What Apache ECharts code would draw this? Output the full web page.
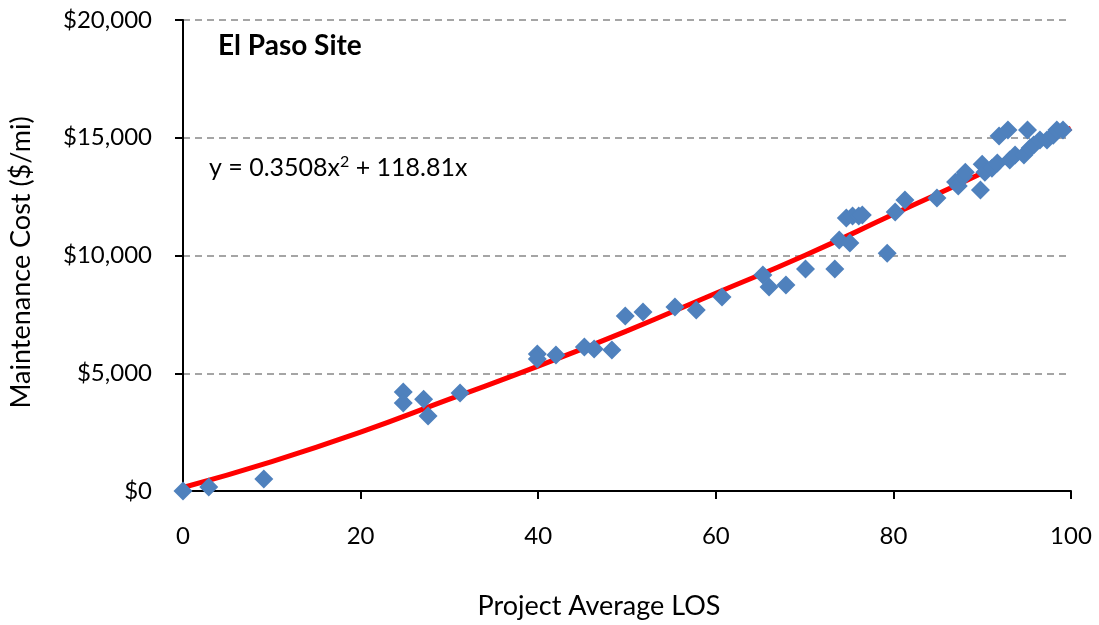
<!DOCTYPE html>
<html>
<head>
<meta charset="utf-8">
<script src="https://cdn.jsdelivr.net/npm/echarts@6/dist/echarts.min.js"></script>
<style>
  html, body { margin: 0; padding: 0; background: #fff; }
  #chart { width: 1099px; height: 625px; }
</style>
</head>
<body>
<div id="chart"></div>
<script>
// project average LOS vs maintenance cost
var losValues = [0, 2.9, 9.1, 24.8, 24.8, 27.1, 27.6, 31.2, 39.9, 39.9, 42.0, 45.2, 46.3, 48.3,
  49.8, 51.8, 55.4, 57.8, 60.7, 65.3, 66.0, 67.9, 70.1, 73.4, 73.9, 75.1, 74.7, 75.4, 76.1, 76.5,
  79.3, 80.2, 81.3, 84.9, 87.0, 87.3, 87.9, 88.1, 89.8, 90.0, 90.3, 91.1, 91.7, 91.9, 92.9, 93.1,
  93.7, 94.7, 95.1, 95.4, 95.8, 96.5, 97.3, 98.0, 98.4, 99.1]
var costValues = [0, 170, 510, 4200, 3740, 3900, 3180, 4160, 5820, 5600, 5770, 6110, 6030, 5990,
  7430, 7600, 7810, 7690, 8240, 9170, 8660, 8750, 9430, 9430, 10660, 10530, 11590, 11680, 11680, 11720,
  10100, 11850, 12360, 12440, 13120, 12950, 13370, 13540, 12780, 13880, 13540, 13710, 13930, 15070, 15330, 14050,
  14270, 14270, 15330, 14560, 14690, 14900, 14900, 15110, 15330, 15330]

// trend line
var trendX = [0, 10, 20, 30, 40, 50, 60, 70, 80, 90, 100]
var trendY = [150, 1250, 2500, 3900, 5300, 6800, 8400, 10000, 11750, 13500, 15400]

var xTicks = [0, 20, 40, 60, 80, 100]
var yTicks = [0, 5000, 10000, 15000, 20000]

var points = losValues.map(function (x, i) { return [x, costValues[i]] })
var trend = trendX.map(function (x, i) { return [x, trendY[i]] })

var chart = echarts.init(document.getElementById('chart'))
var font = 'Lato, "Open Sans", sans-serif'

chart.setOption({
  animation: false,
  grid: { left: 180, right: 28, top: 20, bottom: 134 },
  xAxis: {
    type: 'value',
    min: 0,
    max: 100,
    interval: 20,
    name: 'Project Average LOS',
    nameLocation: 'middle',
    nameGap: 102,
    nameTextStyle: { color: '#000', fontSize: 27, fontFamily: font, padding: [0, 56, 0, 0] },
    axisLine: { lineStyle: { color: '#000', width: 2 } },
    axisTick: { show: true, length: 8, lineStyle: { color: '#000', width: 2 } },
    axisLabel: {
      color: '#000', fontSize: 24, fontFamily: font, margin: 33,
      formatter: function (v) { return xTicks.indexOf(v) < 0 ? '' : String(v) }
    },
    splitLine: { show: false }
  },
  yAxis: {
    type: 'value',
    min: 0,
    max: 20000,
    interval: 5000,
    name: 'Maintenance Cost ($/mi)',
    nameLocation: 'middle',
    nameGap: 148,
    nameTextStyle: { color: '#000', fontSize: 27, fontFamily: font, padding: [0, 14, 0, 0] },
    axisLine: { show: true, lineStyle: { color: '#000', width: 2 } },
    axisTick: { show: true, length: 8, lineStyle: { color: '#000', width: 2 } },
    axisLabel: {
      color: '#000', fontSize: 24, fontFamily: font, margin: 31,
      formatter: function (v) {
        if (yTicks.indexOf(v) < 0) return ''
        return '$' + v.toLocaleString('en-US')
      }
    },
    splitLine: { show: true, lineStyle: { color: '#888', type: [7, 5], width: 1.5 } }
  },
  graphic: [
    {
      type: 'text', left: 218, top: 32,
      style: { text: 'El Paso Site', font: 'bold 28px ' + font, fill: '#000' }
    },
    {
      type: 'text', left: 209, top: 154,
      style: {
        text: '{b|y = 0.3508x}{s|2}{b| + 118.81x}',
        rich: {
          b: { fontSize: 25, fontFamily: font, color: '#000' },
          s: { fontSize: 16, fontFamily: font, color: '#000', verticalAlign: 'top', padding: [0, 0, 12, 0] }
        }
      }
    }
  ],
  series: [
    {
      type: 'line',
      data: trend,
      smooth: true,
      symbol: 'none',
      z: 1,
      lineStyle: { color: '#ff0000', width: 5 }
    },
    {
      type: 'scatter',
      data: points,
      symbol: 'diamond',
      symbolSize: 19,
      z: 2,
      itemStyle: { color: '#4f81bd', opacity: 1 }
    }
  ]
})
</script>
</body>
</html>
